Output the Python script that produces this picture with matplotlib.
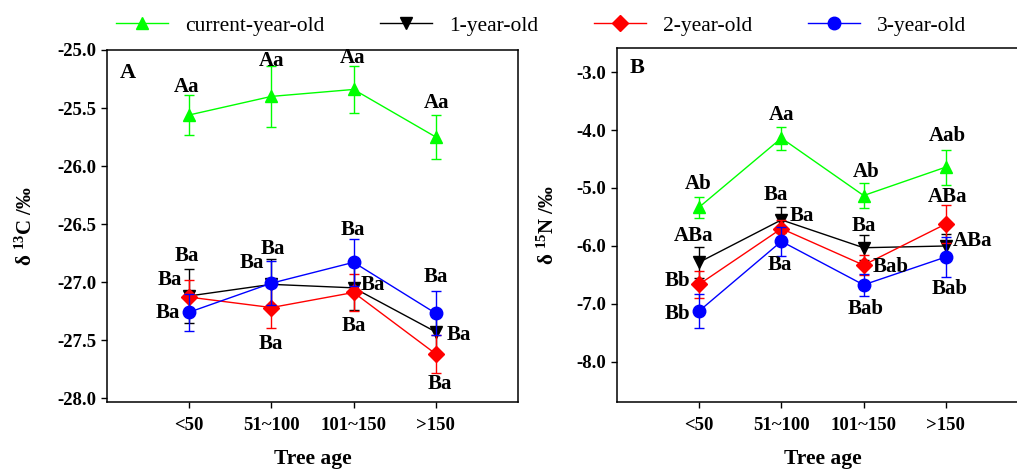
import matplotlib
matplotlib.use("Agg")
import matplotlib.pyplot as plt
from matplotlib.lines import Line2D

plt.rcParams['font.family'] = ['Liberation Serif', 'DejaVu Serif']
plt.rcParams['mathtext.fontset'] = 'custom'
plt.rcParams['mathtext.rm'] = 'Liberation Serif:bold'
plt.rcParams['mathtext.bf'] = 'Liberation Serif:bold'
plt.rcParams['mathtext.it'] = 'Liberation Serif:bold'

# ---------------- data ----------------
categories = ["<50", "51~100", "101~150", ">150"]
series_names = ["current-year-old", "1-year-old", "2-year-old", "3-year-old"]
series_colors = ["#00ff00", "black", "red", "blue"]
series_markers = ["^", "v", "D", "o"]

# Panel A: delta 13C
c13_current = [-25.56, -25.40, -25.34, -25.75]
c13_1yr = [-27.12, -27.02, -27.05, -27.43]
c13_2yr = [-27.13, -27.22, -27.09, -27.62]
c13_3yr = [-27.26, -27.01, -26.83, -27.27]
c13_current_err = [0.17, 0.26, 0.20, 0.19]
c13_1yr_err = [0.23, 0.22, 0.19, 0.19]
c13_2yr_err = [0.15, 0.18, 0.16, 0.16]
c13_3yr_err = [0.16, 0.19, 0.20, 0.19]

# Panel B: delta 15N
n15_current = [-5.33, -4.14, -5.13, -4.64]
n15_1yr = [-6.28, -5.55, -6.03, -6.00]
n15_2yr = [-6.66, -5.70, -6.33, -5.62]
n15_3yr = [-7.12, -5.92, -6.67, -6.19]
n15_current_err = [0.18, 0.20, 0.21, 0.30]
n15_1yr_err = [0.27, 0.22, 0.22, 0.20]
n15_2yr_err = [0.23, 0.15, 0.17, 0.32]
n15_3yr_err = [0.30, 0.25, 0.19, 0.35]

# significance letters
c13_current_lab = ["Aa", "Aa", "Aa", "Aa"]
c13_1yr_lab = ["Ba", "Ba", "Ba", "Ba"]
c13_2yr_lab = ["Ba", "Ba", "Ba", "Ba"]
c13_3yr_lab = ["Ba", "Ba", "Ba", "Ba"]
n15_current_lab = ["Ab", "Aa", "Ab", "Aab"]
n15_1yr_lab = ["ABa", "Ba", "Ba", "ABa"]
n15_2yr_lab = ["Bb", "Ba", "Bab", "ABa"]
n15_3yr_lab = ["Bb", "Ba", "Bab", "Bab"]

# label offsets (pixels) relative to the point
c13_offsets = [
    [(-3, 28), (0, 35), (-1, 31), (1, 34)],
    [(-2, 40), (1, 35), (19, 3), (23, -3)],
    [(-19, 17), (-1, -36), (0, -34), (4, -30)],
    [(-21, -1), (-20, 20), (-1, 32), (0, 36)],
]
n15_offsets = [
    [(-1, 23), (0, 23), (3, 24), (2, 31)],
    [(-6, 26), (-6, 25), (0, 22), (27, 5)],
    [(-22, 3), (20, 13), (27, -2), (2, 27)],
    [(-22, -3), (-2, -24), (2, -24), (4, -32)],
]

W, H = 1017, 469
fig = plt.figure(figsize=(W / 100, H / 100), dpi=100)

axA = fig.add_axes([107 / W, 1 - 402 / H, 411 / W, 352 / H])
axB = fig.add_axes([617 / W, 1 - 402 / H, 411 / W, 354 / H])

x = [1, 2, 3, 4]


def draw(ax, vals, errs, labs, offs):
    order = [0, 3, 2, 1]
    for i in order:
        ax.errorbar(x, vals[i], yerr=errs[i], color=series_colors[i],
                    marker=series_markers[i], markersize=9 if i != 2 else 8,
                    linewidth=1.0, elinewidth=1.0, capsize=3.5, capthick=1.0,
                    zorder=3 + i)
    for i in range(4):
        for j in range(4):
            ax.annotate(labs[i][j], (x[j], vals[i][j]), xytext=offs[i][j],
                        textcoords='offset pixels', ha='center', va='center',
                        fontsize=15, fontweight='bold', zorder=10)


draw(axA, [c13_current, c13_1yr, c13_2yr, c13_3yr],
     [c13_current_err, c13_1yr_err, c13_2yr_err, c13_3yr_err],
     [c13_current_lab, c13_1yr_lab, c13_2yr_lab, c13_3yr_lab], c13_offsets)
draw(axB, [n15_current, n15_1yr, n15_2yr, n15_3yr],
     [n15_current_err, n15_1yr_err, n15_2yr_err, n15_3yr_err],
     [n15_current_lab, n15_1yr_lab, n15_2yr_lab, n15_3yr_lab], n15_offsets)

axA.set_xlim(0, 5)
axA.set_ylim(-28.034, -25.0)
axA.set_yticks([-25.0, -25.5, -26.0, -26.5, -27.0, -27.5, -28.0])
axB.set_xlim(0, 5)
axB.set_ylim(-8.69, -2.586)
axB.set_yticks([-3.0, -4.0, -5.0, -6.0, -7.0, -8.0])

for ax in (axA, axB):
    ax.set_xticks(x)
    ax.set_xticklabels(categories)
    ax.yaxis.set_major_formatter(matplotlib.ticker.FormatStrFormatter('%.1f'))
    ax.tick_params(direction='out', length=4, width=1, labelsize=13.5)
    ax.tick_params(axis='x', pad=7)
    for lab in ax.get_xticklabels() + ax.get_yticklabels():
        lab.set_fontweight('bold')
    for sp in ax.spines.values():
        sp.set_linewidth(1.1)
    ax.set_xlabel("Tree age", fontsize=15.5, fontweight='bold')
    ax.xaxis.set_label_coords(0.5, -(449 - 402) / 352)

axA.set_ylabel(r"δ $^{13}$C /‰", fontsize=15, fontweight='bold')
axA.yaxis.set_label_coords(-70 / 411, 0.5)
axB.set_ylabel(r"δ $^{15}$N /‰", fontsize=15, fontweight='bold')
axB.yaxis.set_label_coords(-58 / 411, 0.5)

axA.text(21 / 411, 1 - 23 / 352, "A", transform=axA.transAxes, fontsize=16,
         fontweight='bold', ha='center', va='center')
axB.text(20 / 411, 1 - 20 / 354, "B", transform=axB.transAxes, fontsize=16,
         fontweight='bold', ha='center', va='center')

handles = [Line2D([], [], color=series_colors[i], marker=series_markers[i],
                  markersize=9 if i != 2 else 8, linewidth=1.0)
           for i in range(4)]
fig.legend(handles, series_names, loc='center left', ncol=4,
           bbox_to_anchor=(116 / W, 1 - 26 / H), frameon=False, fontsize=15.5,
           handlelength=2.4, handletextpad=0.8, columnspacing=2.6,
           borderaxespad=0, borderpad=0)

fig.savefig("out.png", dpi=100)
